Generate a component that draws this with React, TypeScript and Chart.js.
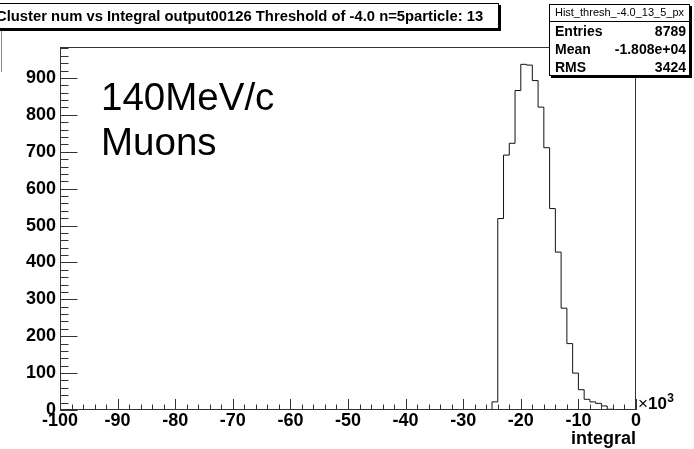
import React, { useEffect, useRef } from "react";
import { Chart, registerables } from "chart.js";

Chart.register(...registerables);

// ---- data (integral in units of 10^3) ----
const binLowEdges = [-25, -24, -23, -22, -21, -20, -19, -18, -17, -16, -15, -14, -13, -12, -11, -10, -9, -8, -7, -6, -5, -4];
const binCounts = [22, 519, 691, 723, 866, 937, 935, 893, 821, 711, 546, 428, 276, 180, 100, 55, 29, 22, 18, 11, 2, 1];
const binWidth = 1;
const xRange = [-100, 0];
const yRange = [0, 984];

const titleText = "Cluster num vs Integral output00126 Threshold of -4.0 n=5particle: 13";
const statsName = "Hist_thresh_-4.0_13_5_px";
const statsLabels = ["Entries", "Mean", "RMS"];
const statsValues = ["8789", "-1.808e+04", "3424"];
const noteLines = ["140MeV/c", "Muons"];
const xAxisTitle = "integral";

const FONT = '"Liberation Sans", Arial, Helvetica, sans-serif';

const rootFramePlugin = {
  id: "rootFrame",
  afterDatasetsDraw(chart: any) {
    const { ctx, chartArea: a, scales } = chart;
    const x = scales.x;
    const y = scales.y;
    ctx.save();
    ctx.strokeStyle = "#333";
    ctx.lineWidth = 1;
    ctx.beginPath();
    for (let v = xRange[0]; v <= xRange[1] + 1e-9; v += 2) {
      const px = Math.round(x.getPixelForValue(v)) + 0.5;
      const major = Math.abs(Math.round(v) % 10) === 0;
      const len = major ? 11 : 5.5;
      ctx.moveTo(px, a.bottom);
      ctx.lineTo(px, a.bottom - len);
    }
    for (let v = yRange[0]; v <= yRange[1] + 1e-9; v += 20) {
      const py = Math.round(y.getPixelForValue(v)) + 0.5;
      const major = v % 100 === 0;
      const len = major ? 17.5 : 8.5;
      ctx.moveTo(a.left, py);
      ctx.lineTo(a.left + len, py);
    }
    ctx.stroke();
    ctx.strokeRect(Math.round(a.left) + 0.5, Math.round(a.top) + 0.5, Math.round(a.right - a.left) - 1, Math.round(a.bottom - a.top) - 1);
    ctx.restore();
  },
  afterDraw(chart: any) {
    const { ctx } = chart;
    ctx.save();
    ctx.strokeStyle = "#888";
    ctx.lineWidth = 1;
    ctx.beginPath();
    ctx.moveTo(1.5, 7);
    ctx.lineTo(1.5, 72);
    ctx.stroke();

    // title box
    ctx.fillStyle = "#fff";
    ctx.fillRect(-10, 3, 509, 26);
    ctx.fillStyle = "#000";
    ctx.fillRect(-10, 29, 511, 2);
    ctx.fillRect(499, 5, 2, 26);
    ctx.strokeStyle = "#000";
    ctx.strokeRect(-9.5, 3.5, 508, 25);
    ctx.font = `bold 14.8px ${FONT}`;
    ctx.textBaseline = "middle";
    ctx.textAlign = "left";
    ctx.fillText(titleText, -4, 16.5);

    // stats box
    const bx = 549, by = 4, bw = 141, bh = 72;
    ctx.fillStyle = "#fff";
    ctx.fillRect(bx, by, bw, bh);
    ctx.fillStyle = "#000";
    ctx.fillRect(bx + 2, by + bh, bw, 2);
    ctx.fillRect(bx + bw, by + 2, 2, bh);
    ctx.strokeRect(bx + 0.5, by + 0.5, bw - 1, bh - 1);
    ctx.beginPath();
    ctx.moveTo(bx, 21.5);
    ctx.lineTo(bx + bw, 21.5);
    ctx.stroke();
    ctx.font = `11px ${FONT}`;
    ctx.textAlign = "center";
    ctx.fillText(statsName, bx + bw / 2, 13);
    ctx.font = `bold 14px ${FONT}`;
    const rowsY = [32, 50, 68];
    statsLabels.forEach((lab, i) => {
      ctx.textAlign = "left";
      ctx.fillText(lab, 555, rowsY[i]);
      ctx.textAlign = "right";
      ctx.fillText(statsValues[i], 686, rowsY[i]);
    });

    // annotation
    ctx.textAlign = "left";
    ctx.textBaseline = "alphabetic";
    ctx.font = `38.5px ${FONT}`;
    ctx.fillText(noteLines[0], 101, 110);
    ctx.fillText(noteLines[1], 101, 155);

    // axis title
    ctx.font = `bold 18px ${FONT}`;
    ctx.textAlign = "right";
    ctx.textBaseline = "middle";
    ctx.fillText(xAxisTitle, 636, 439);

    // x10^3
    ctx.textAlign = "left";
    ctx.textBaseline = "alphabetic";
    ctx.font = `17px ${FONT}`;
    let cx = 638;
    ctx.fillText("\u00d7", cx, 409);
    cx += ctx.measureText("\u00d7").width;
    ctx.font = `bold 17px ${FONT}`;
    ctx.fillText("10", cx, 409);
    cx += ctx.measureText("10").width + 0.5;
    ctx.font = `bold 12px ${FONT}`;
    ctx.fillText("3", cx, 402);
    ctx.restore();
  },
};

export default function App() {
  const canvasRef = useRef<HTMLCanvasElement | null>(null);

  useEffect(() => {
    document.body.style.margin = "0";
    const canvas = canvasRef.current;
    if (!canvas) return;

    const points: { x: number; y: number }[] = [{ x: xRange[0], y: 0 }];
    binLowEdges.forEach((e, i) => points.push({ x: e, y: binCounts[i] }));
    points.push({ x: binLowEdges[binLowEdges.length - 1] + binWidth, y: 0 });
    points.push({ x: xRange[1], y: 0 });

    const chart = new Chart(canvas, {
      type: "line",
      data: {
        datasets: [
          {
            data: points,
            stepped: "before",
            borderColor: "#111",
            borderWidth: 1,
            pointRadius: 0,
            fill: false,
          },
        ],
      },
      options: {
        animation: false,
        responsive: true,
        maintainAspectRatio: false,
        layout: { padding: { top: 47, right: 58, bottom: 0, left: 0 } },
        plugins: {
          legend: { display: false },
          title: { display: false },
          tooltip: { enabled: false },
        },
        scales: {
          x: {
            type: "linear",
            min: xRange[0],
            max: xRange[1],
            grid: { display: false, drawTicks: false },
            border: { display: false },
            ticks: {
              stepSize: 10,
              autoSkip: false,
              maxRotation: 0,
              padding: 0,
              color: "#000",
              font: { family: FONT, size: 18, weight: "bold" },
              callback: (v: any) => String(v),
            },
            afterFit: (s: any) => {
              s.height = 39;
            },
          },
          y: {
            type: "linear",
            min: yRange[0],
            max: yRange[1],
            grid: { display: false, drawTicks: false },
            border: { display: false },
            ticks: {
              stepSize: 100,
              includeBounds: false,
              padding: 4,
              color: "#000",
              font: { family: FONT, size: 18, weight: "bold" },
              callback: (v: any) => (Number(v) % 100 === 0 ? String(v) : ""),
            },
            afterFit: (s: any) => {
              s.width = 60;
            },
          },
        },
      },
      plugins: [rootFramePlugin],
    });
    return () => chart.destroy();
  }, []);

  return (
    <div style={{ width: 694, height: 449, position: "relative" }}>
      <canvas ref={canvasRef} />
    </div>
  );
}
